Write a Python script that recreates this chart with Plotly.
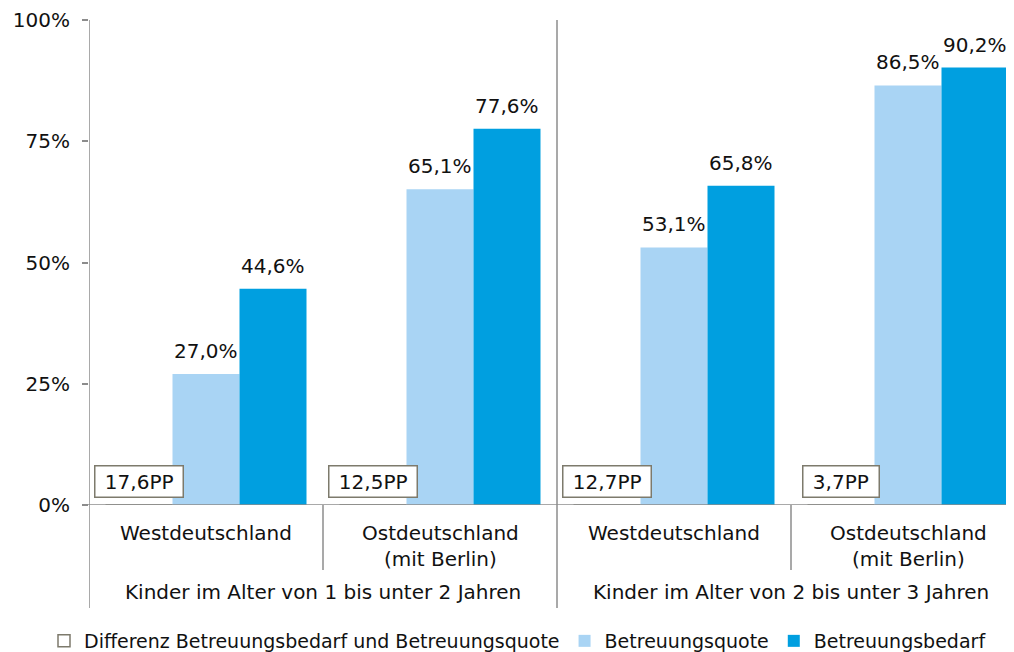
import plotly.graph_objects as go

# ---- data ----
categories = ["Westdeutschland", "Ostdeutschland<br>(mit Berlin)",
              "Westdeutschland", "Ostdeutschland<br>(mit Berlin)"]
groups = ["Kinder im Alter von 1 bis unter 2 Jahren",
          "Kinder im Alter von 2 bis unter 3 Jahren"]
betreuungsquote = [27.0, 65.1, 53.1, 86.5]
betreuungsbedarf = [44.6, 77.6, 65.8, 90.2]
differenz = [17.6, 12.5, 12.7, 3.7]
y_ticks = [0, 25, 50, 75, 100]
y_ticktext = ["0%", "25%", "50%", "75%", "100%"]

# ---- styling ----
OFF = 8  # page body margin
W, H = 1014 - OFF, 652 - OFF
ML, MR, MT, MB = 81, 0, 12, 147
FONT = "Verdana, DejaVu Sans, sans-serif"
FS = 20
LEG_FS = 19
C_LIGHT = "#a9d4f4"
C_DARK = "#009fe0"
C_BORDER = "#7d7a6c"
C_AXIS = "#8c8c8c"
TXT = "#111111"
BARGAP = 0.141
CAT_PX = 234.0

plot_h = H - MT - MB
plot_w = W - ML - MR
x_max = -0.5 + plot_w / CAT_PX


def py(pix):
    """page pixel y (from top) -> paper y"""
    return (OFF + MT + plot_h - pix) / plot_h


def px(pix):
    """page pixel x (from left) -> paper x"""
    return (pix - OFF - ML) / plot_w


def fmt(v):
    return f"{v:.1f}".replace(".", ",")


xs = list(range(len(categories)))
bw = (1 - BARGAP) / 3
off = [-bw, 0.0, bw]

fig = go.Figure()
fig.add_trace(go.Bar(x=xs, y=[0] * len(xs), name="Differenz Betreuungsbedarf und Betreuungsquote",
                     marker=dict(color="white", line=dict(color=C_BORDER, width=1.5)),
                     hoverinfo="skip"))
fig.add_trace(go.Bar(x=xs, y=betreuungsquote, name="Betreuungsquote",
                     marker=dict(color=C_LIGHT, line=dict(width=0))))
fig.add_trace(go.Bar(x=xs, y=betreuungsbedarf, name="Betreuungsbedarf",
                     marker=dict(color=C_DARK, line=dict(width=0))))

annotations = []
for i in xs:
    # value labels
    for v, o in ((betreuungsquote[i], off[1]), (betreuungsbedarf[i], off[2])):
        annotations.append(dict(x=i + o, y=v, xref="x", yref="y", text=fmt(v) + "%",
                                showarrow=False, yanchor="bottom", xanchor="center",
                                yshift=9, font=dict(size=FS, color=TXT, family=FONT)))
    # difference boxes
    annotations.append(dict(x=i + off[0], y=0, xref="x", yref="y",
                            text="\u00a0" + fmt(differenz[i]) + "PP\u00a0",
                            showarrow=False, yanchor="bottom", xanchor="center", yshift=7,
                            bgcolor="white", bordercolor=C_BORDER, borderwidth=1.5, borderpad=3,
                            font=dict(size=FS, color=TXT, family=FONT)))
    # category labels
    annotations.append(dict(x=i, y=py(519), xref="x", yref="paper", text=categories[i],
                            showarrow=False, yanchor="top", xanchor="center",
                            font=dict(size=FS, color=TXT, family=FONT)))
for g, name in enumerate(groups):
    annotations.append(dict(x=2 * g + 0.5, y=py(592), xref="x", yref="paper", text=name,
                            showarrow=False, yanchor="middle", xanchor="center",
                            font=dict(size=FS, color=TXT, family=FONT)))

shapes = []
# y axis line (extended into category area)
shapes.append(dict(type="line", xref="x", yref="paper", x0=-0.5, x1=-0.5,
                   y0=py(608), y1=1, line=dict(color=C_AXIS, width=1.5)))
# x axis line
shapes.append(dict(type="line", xref="paper", yref="y", x0=-6 / plot_w, x1=1,
                   y0=0, y1=0, line=dict(color=C_AXIS, width=1.5)))
# group separator
shapes.append(dict(type="line", xref="x", yref="paper", x0=1.5, x1=1.5,
                   y0=py(608), y1=1, line=dict(color=C_AXIS, width=1.5)))
# category separators
for xv in (0.5, 2.5):
    shapes.append(dict(type="line", xref="x", yref="paper", x0=xv, x1=xv,
                       y0=py(570), y1=0, line=dict(color=C_AXIS, width=1.5)))

fig.update_layout(
    width=W, height=H,
    margin=dict(l=ML, r=MR, t=MT, b=MB, autoexpand=False),
    paper_bgcolor="white", plot_bgcolor="white",
    barmode="group", bargap=BARGAP, bargroupgap=0,
    font=dict(family=FONT, size=FS, color=TXT),
    xaxis=dict(range=[-0.5, x_max], showticklabels=False, showgrid=False,
               zeroline=False, showline=False, ticks=""),
    yaxis=dict(range=[0, 100], tickmode="array", tickvals=y_ticks, ticktext=y_ticktext,
               showgrid=False, zeroline=False, showline=False, ticks="outside", ticklen=6,
               tickcolor=C_AXIS, tickwidth=1.5, ticklabelstandoff=8,
               tickfont=dict(size=FS, color=TXT, family=FONT)),
    legend=dict(orientation="h", x=px(44), xanchor="left",
                y=py(641), yanchor="middle", font=dict(size=LEG_FS, color=TXT, family=FONT),
                itemwidth=30, traceorder="normal", bgcolor="rgba(0,0,0,0)"),
    annotations=annotations, shapes=shapes,
    showlegend=True,
)

fig.write_html("out.html")
